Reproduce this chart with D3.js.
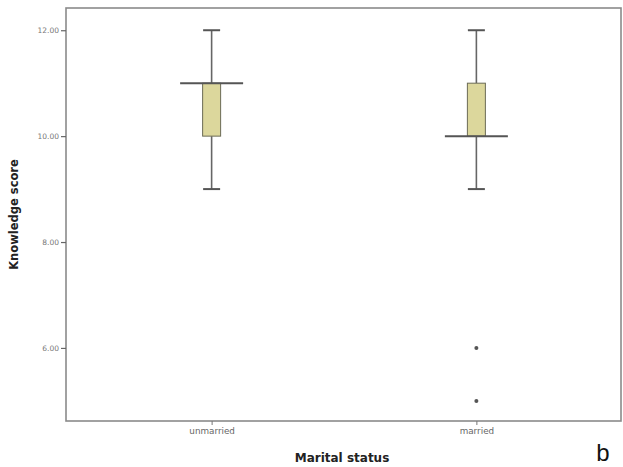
<!DOCTYPE html>
<html>
<head>
<meta charset="utf-8">
<script src="https://cdn.jsdelivr.net/npm/d3@7"></script>
<style>
  body { margin: 0; background: #fff; }
  svg { display: block; }
</style>
</head>
<body>
<svg id="chart" width="623" height="467"></svg>
<script>
// categories and box summaries
const categories = ["unmarried", "married"];
const mins = [9, 9];
const q1s = [10, 10];
const medians = [11, 10];
const q3s = [11, 11];
const maxs = [12, 12];
const outliers = [[], [6, 5]];
const yTicks = [6, 8, 10, 12];

const W = 623, H = 467;
const margin = {top: 8, right: 1, bottom: 46, left: 66};

const svg = d3.select("#chart");

const x = d3.scalePoint()
  .domain(categories)
  .range([margin.left, W - margin.right])
  .padding(0.55);

const y = d3.scaleLinear()
  .domain([4.62, 12.42])
  .range([H - margin.bottom, margin.top]);

// frame
svg.append("rect")
  .attr("x", margin.left)
  .attr("y", margin.top)
  .attr("width", W - margin.left - margin.right - 1)
  .attr("height", H - margin.top - margin.bottom)
  .attr("fill", "none")
  .attr("stroke", "#8a8a8a")
  .attr("stroke-width", 1.6);

// y axis
const yAxis = svg.append("g")
  .attr("transform", "translate(" + margin.left + ",0)")
  .call(d3.axisLeft(y).tickValues(yTicks).tickSize(5).tickPadding(2)
    .tickFormat(d3.format(".2f")));
yAxis.select(".domain").remove();
yAxis.selectAll(".tick line").attr("stroke", "#666").attr("stroke-width", 1.2);
yAxis.selectAll(".tick text")
  .attr("fill", "#777")
  .style("font-family", "DejaVu Sans, sans-serif")
  .style("font-size", "7.5px");

// x axis
const xAxis = svg.append("g")
  .attr("transform", "translate(0," + (H - margin.bottom) + ")")
  .call(d3.axisBottom(x).tickSize(4).tickPadding(3));
xAxis.select(".domain").remove();
xAxis.selectAll(".tick line").attr("stroke", "#777").attr("stroke-width", 1);
xAxis.selectAll(".tick text")
  .attr("fill", "#666")
  .style("font-family", "DejaVu Sans, sans-serif")
  .style("font-size", "8.8px");

// axis titles
svg.append("text")
  .attr("transform", "translate(18," + (margin.top + (H - margin.top - margin.bottom) / 2) + ") rotate(-90)")
  .attr("text-anchor", "middle")
  .style("font-family", "DejaVu Sans, sans-serif")
  .style("font-size", "11.5px")
  .style("font-weight", "bold")
  .attr("fill", "#222")
  .text("Knowledge score");

svg.append("text")
  .attr("x", 342)
  .attr("y", 462)
  .attr("text-anchor", "middle")
  .style("font-family", "DejaVu Sans, sans-serif")
  .style("font-size", "12px")
  .style("font-weight", "bold")
  .attr("fill", "#222")
  .text("Marital status");

svg.append("text")
  .attr("x", 603)
  .attr("y", 461)
  .attr("text-anchor", "middle")
  .style("font-family", "Liberation Sans, Arial, sans-serif")
  .style("font-size", "24px")
  .attr("fill", "#111")
  .text("b");

// boxes
const boxW = 18, capW = 17, medW = 63;
const boxes = svg.append("g");

categories.forEach((c, i) => {
  const cx = x(c);
  const g = boxes.append("g");

  // whiskers
  g.append("line")
    .attr("x1", cx).attr("x2", cx)
    .attr("y1", y(maxs[i])).attr("y2", y(q3s[i]))
    .attr("stroke", "#666").attr("stroke-width", 1.6);
  g.append("line")
    .attr("x1", cx).attr("x2", cx)
    .attr("y1", y(q1s[i])).attr("y2", y(mins[i]))
    .attr("stroke", "#666").attr("stroke-width", 1.6);

  // caps
  [mins[i], maxs[i]].forEach((v) => {
    g.append("line")
      .attr("x1", cx - capW / 2).attr("x2", cx + capW / 2)
      .attr("y1", y(v)).attr("y2", y(v))
      .attr("stroke", "#555").attr("stroke-width", 2);
  });

  // box
  g.append("rect")
    .attr("x", cx - boxW / 2)
    .attr("y", y(q3s[i]))
    .attr("width", boxW)
    .attr("height", y(q1s[i]) - y(q3s[i]))
    .attr("fill", "#dcd79c")
    .attr("stroke", "#6b6b55")
    .attr("stroke-width", 1);

  // median
  g.append("line")
    .attr("x1", cx - medW / 2).attr("x2", cx + medW / 2)
    .attr("y1", y(medians[i])).attr("y2", y(medians[i]))
    .attr("stroke", "#555").attr("stroke-width", 2);

  // outliers
  outliers[i].forEach((v) => {
    g.append("circle")
      .attr("cx", cx).attr("cy", y(v))
      .attr("r", 2)
      .attr("fill", "#555");
  });
});
</script>
</body>
</html>
